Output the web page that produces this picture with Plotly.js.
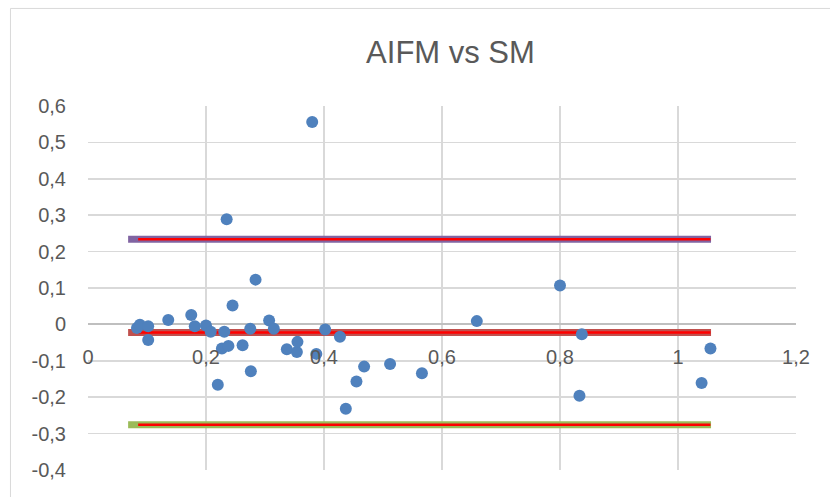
<!DOCTYPE html>
<html>
<head>
<meta charset="utf-8">
<script src="https://cdn.plot.ly/plotly-3.0.1.min.js"></script>
<style>html,body{margin:0;padding:0;background:#fff;}#chart{width:830px;height:497px;}</style>
</head>
<body>
<div id="chart"></div>
<script>
// Mean of the two methods (x) and difference (y)
var meanValues = [0.083, 0.088, 0.102, 0.102, 0.136, 0.175, 0.181, 0.200, 0.208, 0.220,
                  0.227, 0.231, 0.235, 0.238, 0.245, 0.262, 0.275, 0.276, 0.284, 0.307,
                  0.315, 0.337, 0.354, 0.355, 0.380, 0.387, 0.402, 0.427, 0.437, 0.455,
                  0.468, 0.512, 0.566, 0.659, 0.800, 0.833, 0.837, 1.040, 1.055];
var diffValues = [-0.010, -0.001, -0.005, -0.043, 0.012, 0.026, -0.005, -0.003, -0.020, -0.166,
                  -0.066, -0.020, 0.289, -0.059, 0.052, -0.057, -0.012, -0.129, 0.123, 0.011,
                  -0.012, -0.068, -0.076, -0.048, 0.556, -0.081, -0.014, -0.034, -0.232, -0.157,
                  -0.116, -0.109, -0.134, 0.009, 0.107, -0.196, -0.027, -0.161, -0.066];

// Reference lines: upper limit, mean difference, lower limit
var lineLevels = [0.234, -0.022, -0.276];
var thickLineX = [0.068, 1.056];
var thinLineX = [0.085, 1.055];
var thickColors = ['#8064A2', '#C0504D', '#9BBB59'];

var xTicks = [0, 0.2, 0.4, 0.6, 0.8, 1, 1.2];
var xTickLabels = ['0', '0,2', '0,4', '0,6', '0,8', '1', '1,2'];
var yTicks = [-0.4, -0.3, -0.2, -0.1, 0, 0.1, 0.2, 0.3, 0.4, 0.5, 0.6];
var yTickLabels = ['-0,4', '-0,3', '-0,2', '-0,1', '0', '0,1', '0,2', '0,3', '0,4', '0,5', '0,6'];

var traces = [];
lineLevels.forEach(function (lv, i) {
  traces.push({
    x: thickLineX, y: [lv, lv], mode: 'lines', type: 'scatter',
    line: {color: thickColors[i], width: 7}, hoverinfo: 'skip'
  });
});
lineLevels.forEach(function (lv) {
  traces.push({
    x: thinLineX, y: [lv, lv], mode: 'lines', type: 'scatter',
    line: {color: '#FF0000', width: 2.5}, hoverinfo: 'skip'
  });
});
traces.push({
  x: meanValues, y: diffValues, mode: 'markers', type: 'scatter',
  marker: {color: '#4F81BD', size: 12}
});

var fontFam = '"Liberation Sans", Arial, sans-serif';
var layout = {
  width: 830, height: 497,
  margin: {l: 88, r: 34, t: 106, b: 27},
  paper_bgcolor: '#ffffff', plot_bgcolor: '#ffffff',
  showlegend: false,
  title: {text: 'AIFM vs SM', font: {family: fontFam, size: 31, color: '#595959'},
          x: 0.512, xref: 'paper', xanchor: 'center', y: 0.895, yanchor: 'middle'},
  xaxis: {
    range: [0, 1.2], tickvals: xTicks, ticktext: xTickLabels, ticks: '',
    showgrid: true, gridcolor: '#D9D9D9', gridwidth: 1.5,
    zeroline: false, showline: false,
    anchor: 'free', position: 0.4,
    ticklabelstandoff: 19,
    tickfont: {family: fontFam, size: 20, color: '#595959'}
  },
  yaxis: {
    range: [-0.4, 0.6], tickvals: yTicks, ticktext: yTickLabels, ticks: '',
    showgrid: true, gridcolor: '#D9D9D9', gridwidth: 1.5,
    zeroline: true, zerolinecolor: '#BFBFBF', zerolinewidth: 2,
    showline: false, ticklabelstandoff: 21,
    tickfont: {family: fontFam, size: 20, color: '#595959'}
  },
  shapes: [{
    type: 'rect', xref: 'paper', yref: 'paper',
    x0: -0.1095, x1: 1.2, y0: -0.3, y1: 1.268,
    line: {color: '#D9D9D9', width: 1}, fillcolor: 'rgba(0,0,0,0)', layer: 'below'
  }]
};

Plotly.newPlot('chart', traces, layout, {staticPlot: true, displayModeBar: false});
</script>
</body>
</html>
